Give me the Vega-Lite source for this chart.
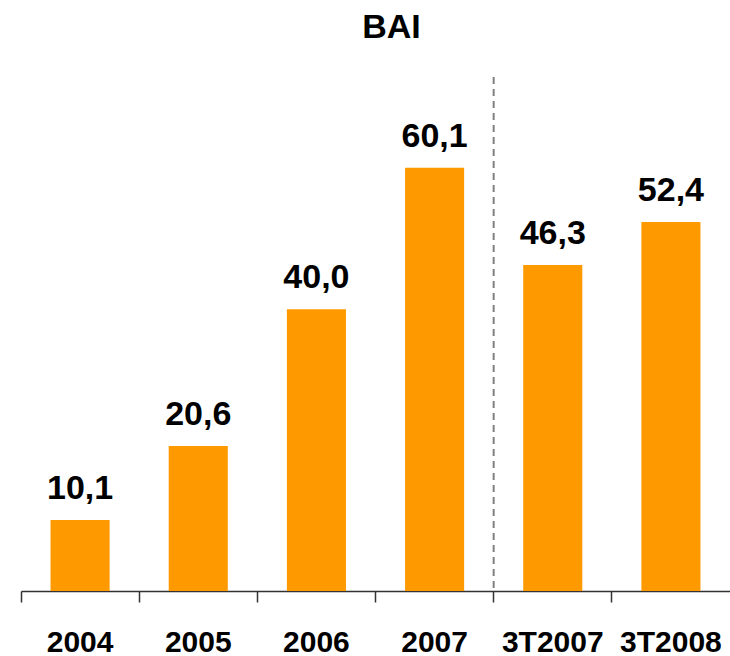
{
  "$schema": "https://vega.github.io/schema/vega-lite/v6.json",
  "autosize": "none",
  "width": 709,
  "height": 514,
  "padding": {"left": 21, "top": 77, "right": 0, "bottom": 65},
  "title": {"text": "BAI", "font": "Liberation Sans", "fontSize": 34, "fontWeight": "bold", "color": "#000000", "baseline": "alphabetic", "offset": 4, "dx": 16},
  "config": {
    "view": {"stroke": null},
    "locale": {"number": {"decimal": ",", "thousands": ".", "grouping": [3], "currency": ["", " €"]}}
  },
  "data": {"values": [
    {"periodo": "2004", "valor": 10.1},
    {"periodo": "2005", "valor": 20.6},
    {"periodo": "2006", "valor": 40.0},
    {"periodo": "2007", "valor": 60.1},
    {"periodo": "3T2007", "valor": 46.3},
    {"periodo": "3T2008", "valor": 52.4}
  ]},
  "encoding": {
    "x": {"field": "periodo", "type": "nominal", "sort": null,
      "scale": {"paddingInner": 0, "paddingOuter": 0},
      "axis": {"title": null, "labelAngle": 0, "labelFont": "Liberation Sans", "labelFontSize": 30, "labelFontWeight": "bold", "labelColor": "#000000", "labelBaseline": "alphabetic", "labelPadding": 49, "tickSize": 11, "tickColor": "#333333", "domainColor": "#333333", "domainWidth": 1.5, "tickWidth": 1.5, "bandPosition": 0, "labelOverlap": false, "labelBound": false}}
  },
  "layer": [
    {"mark": {"type": "bar", "color": "#FF9900", "width": {"band": 0.5}},
     "encoding": {"y": {"field": "valor", "type": "quantitative", "scale": {"domain": [0, 73], "nice": false}, "axis": null}}},
    {"mark": {"type": "text", "font": "Liberation Sans", "fontSize": 34, "fontWeight": "bold", "color": "#000000", "baseline": "alphabetic", "dy": -21},
     "encoding": {"y": {"field": "valor", "type": "quantitative"}, "text": {"field": "valor", "type": "quantitative", "format": ".1f"}}},
    {"transform": [{"filter": "datum.periodo == '3T2007'"}],
     "mark": {"type": "rule", "color": "#808080", "strokeWidth": 2, "strokeDash": [7, 5]},
     "encoding": {"x": {"field": "periodo", "type": "nominal", "bandPosition": 0}}}
  ]
}
